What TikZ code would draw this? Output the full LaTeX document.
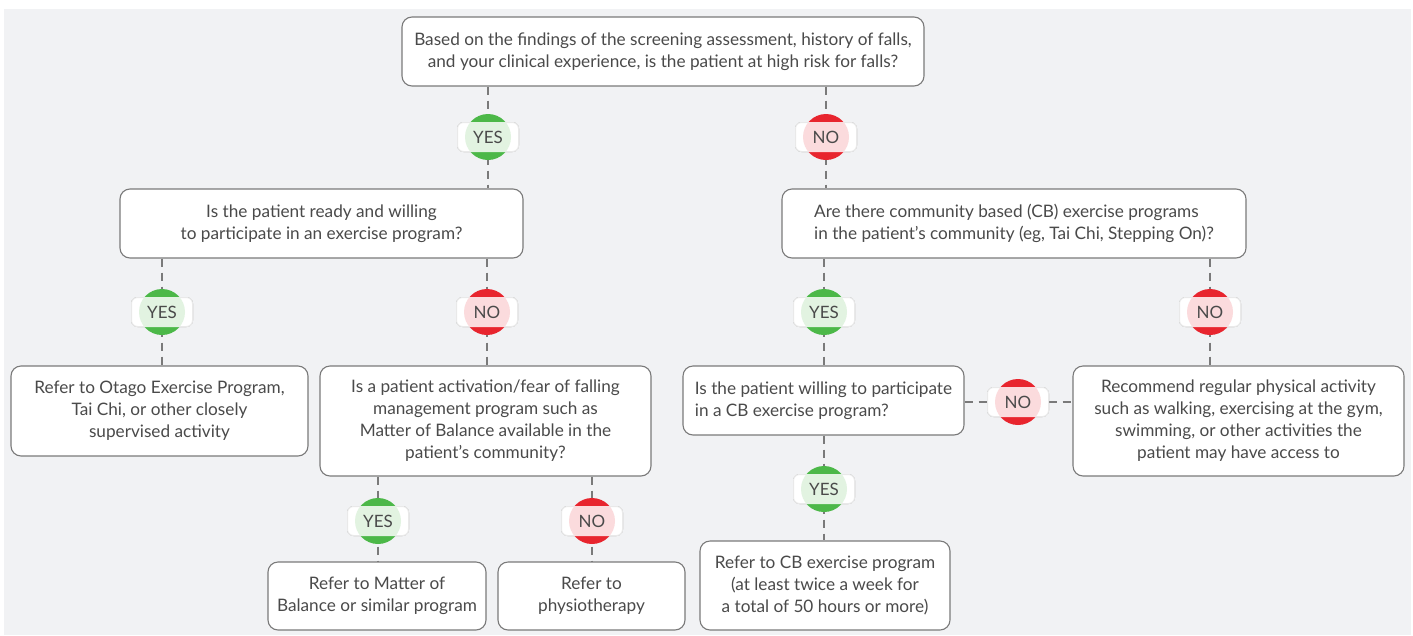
\documentclass[tikz,border=0pt]{standalone}
\usepackage{fontspec}
\setmainfont{Lato}
\usepackage{tikz}
\usetikzlibrary{positioning}

\definecolor{bgray}{HTML}{F1F2F4}
\definecolor{edgegray}{HTML}{7A7A7A}
\definecolor{txtgray}{HTML}{4A4A4A}
\definecolor{yesgreen}{HTML}{4CB848}
\definecolor{nored}{HTML}{E8252E}

% answer badge: name, position, colour, text
\newcommand{\answer}[4]{%
  \node[tag] (#1) at (#2) {};
  \fill[#3] (#1.center) circle (23pt);
  \fill[white,opacity=.84,rounded corners=6pt] (#1.south west) rectangle (#1.north east);
  \node[text=txtgray,font=\fontsize{17}{20}\selectfont] at (#1.center) {#4};
}

\begin{document}
\begin{tikzpicture}[x=1pt, y=-1pt]
        \tikzset{box/.style={draw=edgegray, fill=white, line width=1.1pt, rounded corners=10pt,
                 text=txtgray, align=center, font=\fontsize{17.2}{22}\selectfont, inner sep=0pt},
                 tag/.style={draw=edgegray, fill=white, line width=1pt, rounded corners=6pt,
                 minimum width=61pt, minimum height=29pt, inner sep=0pt},
                 link/.style={draw=edgegray, line width=1.3pt, dash pattern=on 8pt off 6pt}}

        \useasboundingbox (0,0) rectangle (1413,635);
        \fill[bgray] (4,9) rectangle (1411,635);

        % questions
        \node[box,minimum width=522pt,minimum height=69pt] (q_0) at (663,51.5)
          {Based on the findings of the screening assessment, history of falls,\\and your clinical experience, is the patient at high risk for falls?};
        \node[box,minimum width=403pt,minimum height=69pt] (q_1) at (321.5,223.5)
          {Is the patient ready and willing\\to participate in an exercise program?};
        \node[box,minimum width=464pt,minimum height=69pt,align=left] (q_2) at (1014,223.5)
          {Are there community based (CB) exercise programs\\in the patient’s community (eg, Tai Chi, Stepping On)?};
        \node[box,minimum width=331pt,minimum height=110pt] (q_4) at (485.5,421)
          {Is a patient activation/fear of falling\\management program such as\\Matter of Balance available in the\\patient’s community?};
        \node[box,minimum width=281pt,minimum height=69pt,align=left] (q_5) at (823.5,400.5)
          {Is the patient willing to participate\\in a CB exercise program?};

        % outcomes
        \node[box,minimum width=297pt,minimum height=90pt] (r_0) at (159.5,411)
          {Refer to Otago Exercise Program,\\Tai Chi, or other closely\\supervised activity};
        \node[box,minimum width=331pt,minimum height=110pt] (r_1) at (1238.5,421)
          {Recommend regular physical activity\\such as walking, exercising at the gym,\\swimming, or other activities the\\patient may have access to};
        \node[box,minimum width=218pt,minimum height=68pt] (r_2) at (377,596)
          {Refer to Matter of\\Balance or similar program};
        \node[box,minimum width=187pt,minimum height=68pt] (r_3) at (591.5,596)
          {Refer to\\physiotherapy};
        \node[box,minimum width=250pt,minimum height=89pt] (r_4) at (825,585.5)
          {Refer to CB exercise program\\(at least twice a week for\\a total of 50 hours or more)};

        % where the answers sit
        \coordinate (a_0) at (488,137);
        \coordinate (a_1) at (826,137);
        \coordinate (a_2) at (162,312);
        \coordinate (a_3) at (487,312);
        \coordinate (a_4) at (824,312);
        \coordinate (a_5) at (1210,312);
        \coordinate (a_6) at (1018,402);
        \coordinate (a_7) at (378,521);
        \coordinate (a_8) at (592,521);
        \coordinate (a_9) at (824,489);

        \path[link]
        (q_0.south -| a_0) -- (q_1.north -| a_0)
        (q_0.south -| a_1) -- (q_2.north -| a_1)
        (q_1.south -| a_2) -- (r_0.north -| a_2)
        (q_1.south -| a_3) -- (q_4.north -| a_3)
        (q_2.south -| a_4) -- (q_5.north -| a_4)
        (q_2.south -| a_5) -- (r_1.north -| a_5)
        (q_5.east |- a_6) -- (r_1.west |- a_6)
        (q_4.south -| a_7) -- (r_2.north -| a_7)
        (q_4.south -| a_8) -- (r_3.north -| a_8)
        (q_5.south -| a_9) -- (r_4.north -| a_9);

        \answer{yes_0}{a_0}{yesgreen}{YES}
        \answer{no_0}{a_1}{nored}{NO}
        \answer{yes_1}{a_2}{yesgreen}{YES}
        \answer{no_1}{a_3}{nored}{NO}
        \answer{yes_2}{a_4}{yesgreen}{YES}
        \answer{no_2}{a_5}{nored}{NO}
        \answer{no_3}{a_6}{nored}{NO}
        \answer{yes_3}{a_7}{yesgreen}{YES}
        \answer{no_4}{a_8}{nored}{NO}
        \answer{yes_4}{a_9}{yesgreen}{YES}
    \end{tikzpicture}
\end{document}
